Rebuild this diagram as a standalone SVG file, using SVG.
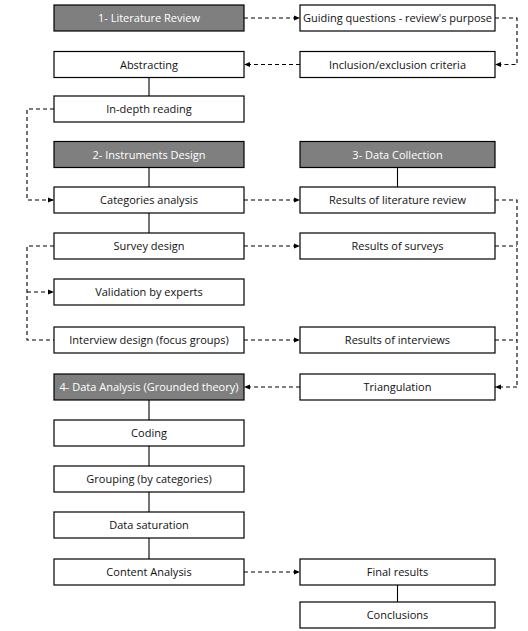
<svg xmlns="http://www.w3.org/2000/svg" width="528" height="631" viewBox="0 0 528 631">
<style>
.b{fill:#fff;stroke:#000;stroke-width:1.2}
.h{fill:#7f7f7f;stroke:#000;stroke-width:1.2}
text{font-family:"Open Sans","Noto Sans","DejaVu Sans",sans-serif;font-size:11px;text-anchor:middle;fill:#111}
.ht{fill:#fff}
.s{fill:none;stroke:#000;stroke-width:1.1}
.d{fill:none;stroke:#000;stroke-width:1.1;stroke-dasharray:4 3}
.a{marker-end:url(#ar)}
</style>
<defs>
<marker id="ar" viewBox="0 0 6 6" refX="6" refY="3" markerWidth="6" markerHeight="6" markerUnits="userSpaceOnUse" orient="auto">
<path d="M0,0.5 L6,3 L0,5.5 z" fill="#000"/>
</marker>
</defs>
<rect width="528" height="631" fill="#fff"/>
<g id="connectors">
<path class="d a" d="M244,18 H300"/>
<path class="d a" d="M495,18 H517 V64.5 H495"/>
<path class="d a" d="M300,64.5 H244"/>
<path class="s" d="M149,77.5 V96"/>
<path class="d a" d="M54,109 H27 V200 H54"/>
<path class="s" d="M149,167 V187"/>
<path class="s" d="M397.5,167 V187"/>
<path class="d a" d="M244,200 H300"/>
<path class="s" d="M149,213 V233"/>
<path class="d a" d="M244,246 H300"/>
<path class="d" d="M54,246 H27 V340 H54"/>
<path class="d a" d="M27,292 H54"/>
<path class="d a" d="M244,340 H300"/>
<path class="d" d="M495,200 H517 V387"/>
<path class="d" d="M495,246 H517"/>
<path class="d" d="M495,340 H517"/>
<path class="d a" d="M517,387 H495"/>
<path class="d a" d="M300,387 H244"/>
<path class="s" d="M149,400 V420"/>
<path class="s" d="M149,446 V466"/>
<path class="s" d="M149,492 V512"/>
<path class="s" d="M149,538 V559"/>
<path class="d a" d="M244,572 H300"/>
<path class="s" d="M397.5,585 V602"/>
</g>
<g id="n1"><rect class="h" x="54" y="5" width="190" height="26"/><text class="ht" x="149" y="22">1- Literature Review</text></g>
<g id="n2"><rect class="b" x="300" y="5" width="195" height="26"/><text x="397.5" y="22">Guiding questions - review's purpose</text></g>
<g id="n3"><rect class="b" x="54" y="51.5" width="190" height="26"/><text x="149" y="68.5">Abstracting</text></g>
<g id="n4"><rect class="b" x="300" y="51.5" width="195" height="26"/><text x="397.5" y="68.5">Inclusion/exclusion criteria</text></g>
<g id="n5"><rect class="b" x="54" y="96" width="190" height="26"/><text x="149" y="113">In-depth reading</text></g>
<g id="n6"><rect class="h" x="54" y="141.5" width="190" height="26"/><text class="ht" x="149" y="158.5">2- Instruments Design</text></g>
<g id="n7"><rect class="h" x="300" y="141.5" width="195" height="26"/><text class="ht" x="397.5" y="158.5">3- Data Collection</text></g>
<g id="n8"><rect class="b" x="54" y="187" width="190" height="26"/><text x="149" y="204">Categories analysis</text></g>
<g id="n9"><rect class="b" x="300" y="187" width="195" height="26"/><text x="397.5" y="204">Results of literature review</text></g>
<g id="n10"><rect class="b" x="54" y="233" width="190" height="26"/><text x="149" y="250">Survey design</text></g>
<g id="n11"><rect class="b" x="300" y="233" width="195" height="26"/><text x="397.5" y="250">Results of surveys</text></g>
<g id="n12"><rect class="b" x="54" y="279" width="190" height="26"/><text x="149" y="296">Validation by experts</text></g>
<g id="n13"><rect class="b" x="54" y="327" width="190" height="26"/><text x="149" y="344">Interview design (focus groups)</text></g>
<g id="n14"><rect class="b" x="300" y="327" width="195" height="26"/><text x="397.5" y="344">Results of interviews</text></g>
<g id="n15"><rect class="h" x="54" y="374" width="190" height="26"/><text class="ht" x="149" y="391">4- Data Analysis (Grounded theory)</text></g>
<g id="n16"><rect class="b" x="300" y="374" width="195" height="26"/><text x="397.5" y="391">Triangulation</text></g>
<g id="n17"><rect class="b" x="54" y="420" width="190" height="26"/><text x="149" y="437">Coding</text></g>
<g id="n18"><rect class="b" x="54" y="466" width="190" height="26"/><text x="149" y="483">Grouping (by categories)</text></g>
<g id="n19"><rect class="b" x="54" y="512" width="190" height="26"/><text x="149" y="529">Data saturation</text></g>
<g id="n20"><rect class="b" x="54" y="559" width="190" height="26"/><text x="149" y="576">Content Analysis</text></g>
<g id="n21"><rect class="b" x="300" y="559" width="195" height="26"/><text x="397.5" y="576">Final results</text></g>
<g id="n22"><rect class="b" x="300" y="602" width="195" height="26"/><text x="397.5" y="619">Conclusions</text></g>
</svg>
